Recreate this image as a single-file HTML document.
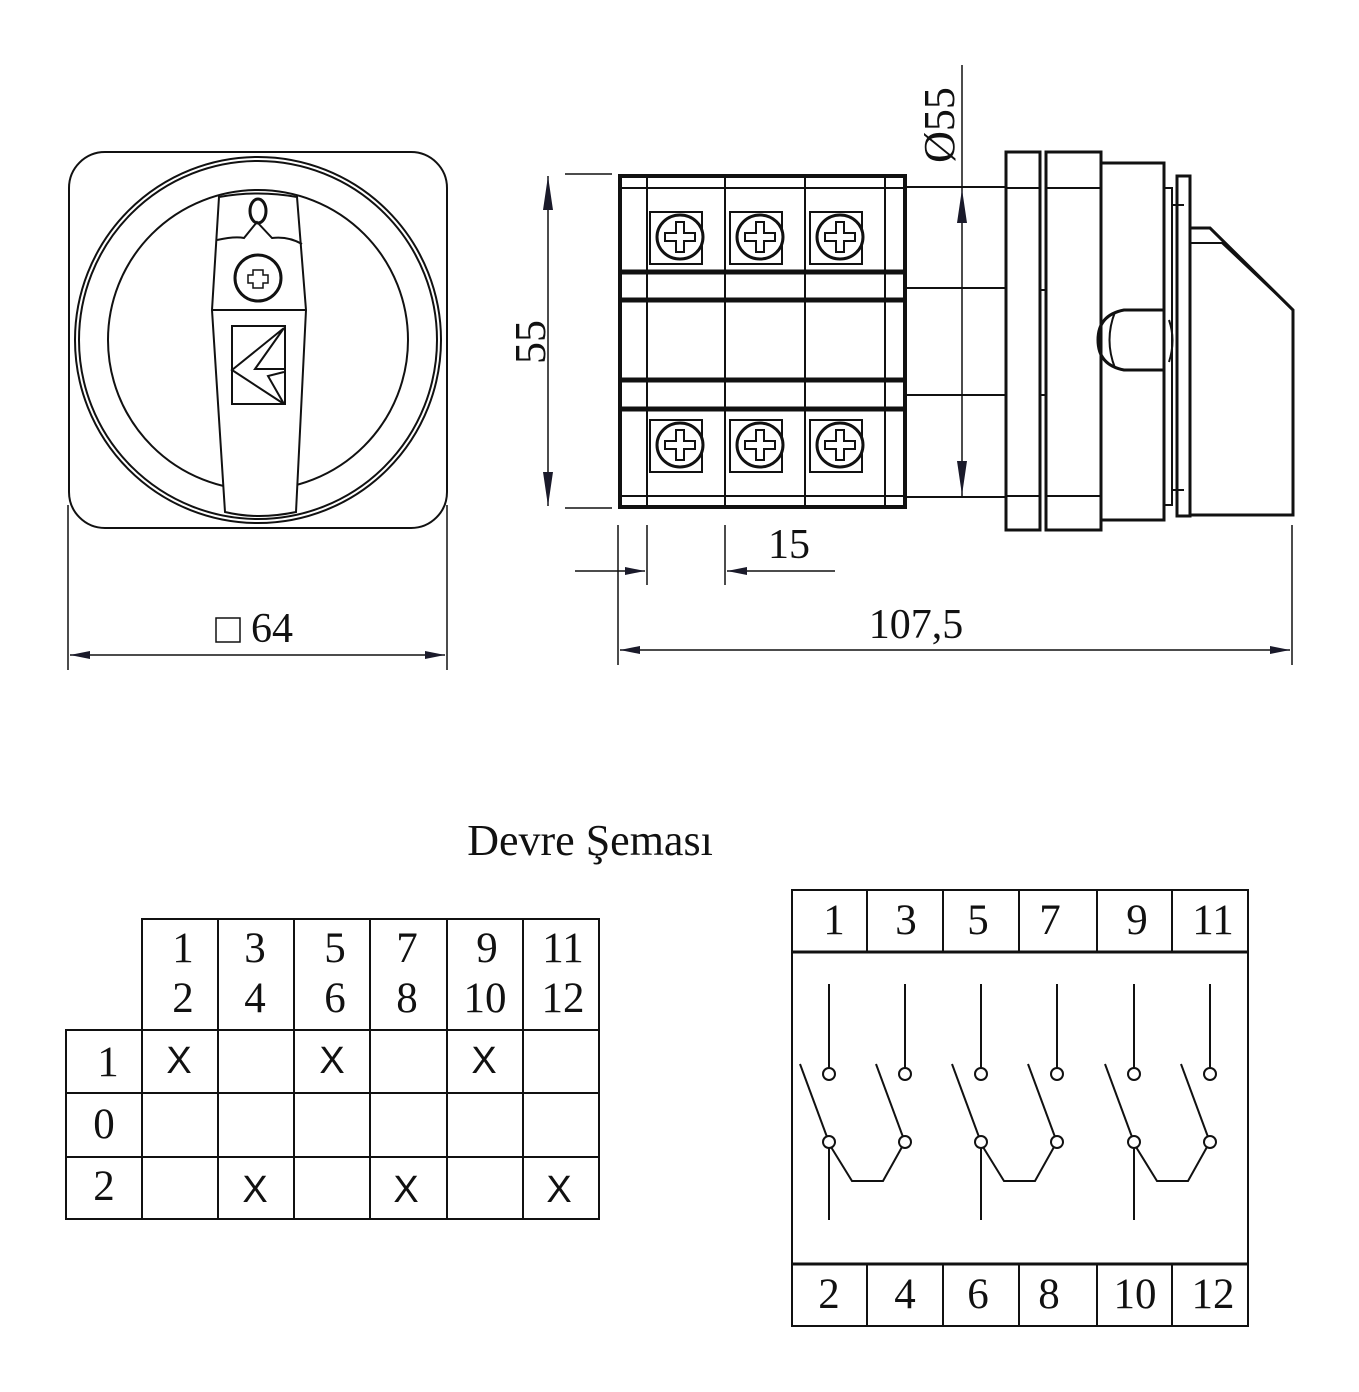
<!DOCTYPE html>
<html><head><meta charset="utf-8"><style>
html,body{margin:0;padding:0;background:#fff}
svg{display:block}
text{font-family:"Liberation Serif",serif;fill:#111}
text.s{font-family:"Liberation Sans",sans-serif}
</style></head><body>
<svg width="1359" height="1392" viewBox="0 0 1359 1392" xmlns="http://www.w3.org/2000/svg">
<defs>
<marker id="a" viewBox="0 0 20 8" refX="20" refY="4" markerWidth="20" markerHeight="8" markerUnits="userSpaceOnUse" orient="auto-start-reverse"><path d="M0,0 L20,4 L0,8 z" fill="#1a1a2a"/></marker>
</defs>
<g fill="none" stroke="#111" stroke-width="2">
<!-- front view -->
<rect x="69" y="152" width="378" height="376" rx="36"/>
<circle cx="258" cy="340" r="183"/>
<circle cx="258" cy="340" r="179"/>
<circle cx="258" cy="340" r="150"/>
<path d="M219,197 Q258,190 297,197 L306,310 L296,512 Q258,520 225,512 L212,310 Z" fill="#fff"/>
<path d="M217,240 Q235,236 244,238 L257,222 L272,238 Q288,236 302,244"/>
<line x1="212" y1="310" x2="306" y2="310"/>
<ellipse cx="258" cy="211" rx="8" ry="12" stroke-width="3"/>
<circle cx="258" cy="278" r="23" stroke-width="3"/>
<path d="M253,270 h10 v5 h5 v8 h-5 v5 h-10 v-5 h-5 v-8 h5z" stroke-width="1.5"/>
<rect x="232" y="326" width="53" height="78"/>
<path d="M284,328 L232,370 L284,404 L268,376 L284,372 M284,328 L255,369 L284,369"/>
<!-- front dims -->
<line x1="68" y1="505" x2="68" y2="670" stroke-width="1.5"/>
<line x1="447" y1="505" x2="447" y2="670" stroke-width="1.5"/>
<line x1="70" y1="655" x2="445" y2="655" stroke-width="1.5" marker-start="url(#a)" marker-end="url(#a)"/>
<rect x="216" y="618" width="24" height="24" stroke-width="1.5"/>
<!-- side view terminal block -->
<rect x="620" y="176" width="285" height="331" stroke-width="4"/>
<line x1="620" y1="188" x2="905" y2="188"/>
<line x1="620" y1="496" x2="905" y2="496"/>
<line x1="647" y1="176" x2="647" y2="507"/>
<line x1="725" y1="176" x2="725" y2="507"/>
<line x1="805" y1="176" x2="805" y2="507"/>
<line x1="885" y1="176" x2="885" y2="507"/>
<line x1="620" y1="272" x2="905" y2="272" stroke-width="5"/>
<line x1="620" y1="300" x2="905" y2="300" stroke-width="5"/>
<line x1="620" y1="380" x2="905" y2="380" stroke-width="5"/>
<line x1="620" y1="409" x2="905" y2="409" stroke-width="5"/>
<g stroke-width="3">
<rect x="650" y="212" width="52" height="52" stroke-width="2"/>
<rect x="730" y="212" width="52" height="52" stroke-width="2"/>
<rect x="810" y="212" width="52" height="52" stroke-width="2"/>
<rect x="650" y="420" width="52" height="52" stroke-width="2"/>
<rect x="730" y="420" width="52" height="52" stroke-width="2"/>
<rect x="810" y="420" width="52" height="52" stroke-width="2"/>
<ellipse cx="680" cy="237" rx="23" ry="22" fill="#fff"/>
<ellipse cx="760" cy="237" rx="23" ry="22" fill="#fff"/>
<ellipse cx="840" cy="237" rx="23" ry="22" fill="#fff"/>
<ellipse cx="680" cy="445" rx="23" ry="22" fill="#fff"/>
<ellipse cx="760" cy="445" rx="23" ry="22" fill="#fff"/>
<ellipse cx="840" cy="445" rx="23" ry="22" fill="#fff"/>
</g>
<g stroke-width="2">
<path d="M676,222 h8 v11 h11 v8 h-11 v11 h-8 v-11 h-11 v-8 h11z"/>
<path d="M756,222 h8 v11 h11 v8 h-11 v11 h-8 v-11 h-11 v-8 h11z"/>
<path d="M836,222 h8 v11 h11 v8 h-11 v11 h-8 v-11 h-11 v-8 h11z"/>
<path d="M676,430 h8 v11 h11 v8 h-11 v11 h-8 v-11 h-11 v-8 h11z"/>
<path d="M756,430 h8 v11 h11 v8 h-11 v11 h-8 v-11 h-11 v-8 h11z"/>
<path d="M836,430 h8 v11 h11 v8 h-11 v11 h-8 v-11 h-11 v-8 h11z"/>
</g>
<!-- shaft -->
<line x1="905" y1="187" x2="1005" y2="187"/>
<line x1="905" y1="288" x2="1005" y2="288"/>
<line x1="905" y1="395" x2="1005" y2="395"/>
<line x1="905" y1="497" x2="1005" y2="497"/>
<!-- plates -->
<rect x="1006" y="152" width="34" height="378" stroke-width="3"/>
<line x1="1006" y1="188" x2="1040" y2="188"/><line x1="1006" y1="496" x2="1040" y2="496"/>
<rect x="1046" y="152" width="55" height="378" stroke-width="3"/>
<line x1="1046" y1="188" x2="1101" y2="188"/><line x1="1046" y1="496" x2="1101" y2="496"/>
<line x1="1040" y1="290" x2="1046" y2="290"/><line x1="1040" y1="395" x2="1046" y2="395"/>
<path d="M1101,163 H1164 V520 H1101" stroke-width="3"/>
<path d="M1164,188 H1172 V505 H1164"/>
<line x1="1172" y1="205" x2="1184" y2="205"/><line x1="1172" y1="490" x2="1184" y2="490"/>
<rect x="1177" y="176" width="13" height="340" stroke-width="3"/>
<path d="M1190,228 H1210 L1293,310 V515 H1190" stroke-width="3"/>
<path d="M1190,243 H1222 L1293,310"/>
<path d="M1164,310 H1124 Q1098,315 1098,340 Q1098,365 1124,370 H1164" stroke-width="3"/>
<path d="M1115,312 Q1104,340 1115,368"/>
<path d="M1169,320 Q1176,340 1169,362"/>
<!-- dims side -->
<line x1="565" y1="174" x2="612" y2="174" stroke-width="1.5"/>
<line x1="565" y1="508" x2="612" y2="508" stroke-width="1.5"/>
<line x1="548" y1="176" x2="548" y2="506" stroke-width="1.5"/>
<path d="M548,176 l-5,34 h10z M548,506 l-5,-34 h10z" fill="#1a1a2a" stroke="none"/>
<line x1="962" y1="65" x2="962" y2="497" stroke-width="1.5"/>
<path d="M962,189 l-5,34 h10z M962,495 l-5,-34 h10z" fill="#1a1a2a" stroke="none"/>
<line x1="618" y1="525" x2="618" y2="665" stroke-width="1.5"/>
<line x1="647" y1="525" x2="647" y2="585" stroke-width="1.5"/>
<line x1="725" y1="525" x2="725" y2="585" stroke-width="1.5"/>
<line x1="1292" y1="525" x2="1292" y2="665" stroke-width="1.5"/>
<line x1="575" y1="571" x2="645" y2="571" stroke-width="1.5" marker-end="url(#a)"/>
<line x1="835" y1="571" x2="727" y2="571" stroke-width="1.5" marker-end="url(#a)"/>
<line x1="620" y1="650" x2="1290" y2="650" stroke-width="1.5" marker-start="url(#a)" marker-end="url(#a)"/>
<!-- left table -->
<path d="M142,919 H599 V1219 H66 V1030 H142 Z"/>
<line x1="66" y1="1030" x2="599" y2="1030"/>
<line x1="66" y1="1093" x2="599" y2="1093"/>
<line x1="66" y1="1157" x2="599" y2="1157"/>
<line x1="142" y1="919" x2="142" y2="1219"/>
<line x1="218" y1="919" x2="218" y2="1219"/>
<line x1="294" y1="919" x2="294" y2="1219"/>
<line x1="370" y1="919" x2="370" y2="1219"/>
<line x1="447" y1="919" x2="447" y2="1219"/>
<line x1="523" y1="919" x2="523" y2="1219"/>
<!-- right table -->
<rect x="792" y="890" width="456" height="436"/>
<line x1="792" y1="952" x2="1248" y2="952" stroke-width="3"/>
<line x1="792" y1="1264" x2="1248" y2="1264" stroke-width="3"/>
<g>
<line x1="867" y1="890" x2="867" y2="952"/><line x1="943" y1="890" x2="943" y2="952"/><line x1="1019" y1="890" x2="1019" y2="952"/><line x1="1097" y1="890" x2="1097" y2="952"/><line x1="1172" y1="890" x2="1172" y2="952"/>
<line x1="867" y1="1264" x2="867" y2="1326"/><line x1="943" y1="1264" x2="943" y2="1326"/><line x1="1019" y1="1264" x2="1019" y2="1326"/><line x1="1097" y1="1264" x2="1097" y2="1326"/><line x1="1172" y1="1264" x2="1172" y2="1326"/>
</g>
<g id="sw">
<line x1="829" y1="984" x2="829" y2="1068"/>
<line x1="905" y1="984" x2="905" y2="1068"/>
<circle cx="829" cy="1074" r="6"/>
<circle cx="905" cy="1074" r="6"/>
<line x1="800" y1="1064" x2="827" y2="1137"/>
<line x1="876" y1="1064" x2="903" y2="1137"/>
<circle cx="829" cy="1142" r="6"/>
<circle cx="905" cy="1142" r="6"/>
<path d="M831,1147 L852,1181 H883 L902,1147"/>
<line x1="829" y1="1148" x2="829" y2="1220"/>
</g>
<use href="#sw" x="152"/>
<use href="#sw" x="305"/>
</g>
<!-- text -->
<text x="272" y="642" font-size="42" text-anchor="middle">64</text>
<text x="789" y="558" font-size="42" text-anchor="middle">15</text>
<text x="916" y="638" font-size="42" text-anchor="middle">107,5</text>
<text x="0" y="0" font-size="44" text-anchor="middle" transform="translate(545,342) rotate(-90)">55</text>
<text x="0" y="0" font-size="44" text-anchor="middle" transform="translate(954,125) rotate(-90)">Ø55</text>
<text x="590" y="855" font-size="44" text-anchor="middle">Devre Şeması</text>
<g font-size="43" text-anchor="middle">
<text x="183" y="962">1</text><text x="183" y="1012">2</text>
<text x="255" y="962">3</text><text x="255" y="1012">4</text>
<text x="335" y="962">5</text><text x="335" y="1012">6</text>
<text x="407" y="962">7</text><text x="407" y="1012">8</text>
<text x="487" y="962">9</text><text x="485" y="1012">10</text>
<text x="563" y="962">11</text><text x="563" y="1012">12</text>
<text x="108" y="1076">1</text>
<text x="104" y="1138">0</text>
<text x="104" y="1200">2</text>
<text x="834" y="934">1</text><text x="906" y="934">3</text><text x="978" y="934">5</text><text x="1050" y="934">7</text><text x="1137" y="934">9</text><text x="1213" y="934">11</text>
<text x="829" y="1308">2</text><text x="905" y="1308">4</text><text x="978" y="1308">6</text><text x="1049" y="1308">8</text><text x="1135" y="1308">10</text><text x="1213" y="1308">12</text>
</g>
<g font-size="38" text-anchor="middle">
<text class="s" x="179" y="1073">X</text><text class="s" x="332" y="1073">X</text><text class="s" x="484" y="1073">X</text>
<text class="s" x="255" y="1202">X</text><text class="s" x="406" y="1202">X</text><text class="s" x="559" y="1202">X</text>
</g>
</svg>
</body></html>
